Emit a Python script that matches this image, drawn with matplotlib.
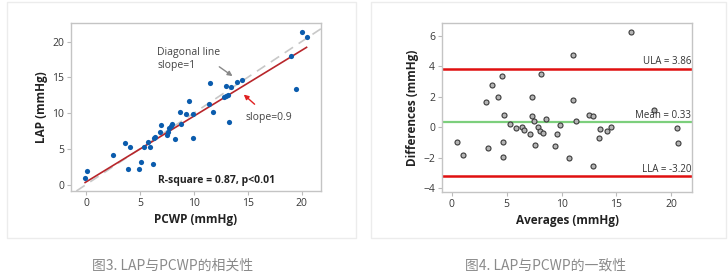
import matplotlib.pyplot as plt
from matplotlib.patches import Rectangle
import numpy as np

# panel 1: LAP vs PCWP
pcwp = [-0.09, 0.09, 2.53, 3.62, 3.86, 4.08, 4.95, 5.13, 5.38, 5.78, 5.94, 6.21, 6.31, 6.43,
        6.83, 6.99, 7.51, 7.64, 7.73, 7.85, 8.0, 8.22, 8.69, 8.81, 9.24, 9.52, 9.89, 9.89,
        11.44, 11.5, 11.81, 12.77, 12.95, 13.14, 13.01, 13.29, 13.42, 14.0, 14.47, 18.98,
        19.44, 20.03, 20.46]
lap = [0.93, 1.96, 4.07, 5.75, 2.24, 5.23, 2.24, 3.22, 5.23, 5.89, 5.23, 2.94, 6.45, 6.68,
       7.38, 8.27, 6.96, 7.29, 7.85, 8.18, 8.41, 6.36, 10.09, 8.41, 9.81, 11.73, 6.45, 9.86,
       11.21, 14.25, 10.14, 12.2, 12.38, 12.52, 13.83, 8.69, 13.64, 14.35, 14.58, 17.99,
       13.32, 21.31, 20.65]
fit_slope = 0.92
fit_intercept = 0.37

# panel 2: Bland-Altman
averages = [0.45, 1.0, 3.09, 3.33, 3.67, 4.18, 4.61, 4.67, 4.67, 4.73, 5.30, 5.85, 6.42, 6.61,
            7.15, 7.27, 7.33, 7.52, 7.61, 7.82, 8.03, 8.15, 8.27, 8.61, 9.42, 9.55, 9.85,
            10.67, 11.03, 11.06, 11.33, 12.55, 12.88, 12.85, 13.39, 13.55, 14.18, 14.55,
            16.33, 18.42, 20.55, 20.61]
differences = [-0.98, -1.84, 1.69, -1.38, 2.76, 1.97, 3.40, -0.98, -1.94, 0.79, 0.20, -0.04,
               0.05, -0.17, -0.46, 0.75, 1.99, 0.44, -1.18, 0.03, -0.21, 3.51, -0.39, 0.55,
               -1.25, -0.46, 0.14, -2.03, 1.77, 4.73, 0.42, 0.79, 0.75, -2.53, -0.67, -0.13,
               -0.24, 0.05, 6.24, 1.12, -0.06, -1.0]
ula, mean_diff, lla = 3.86, 0.33, -3.20

captions = ['图3. LAP与PCWP的相关性', '图4. LAP与PCWP的一致性']

plt.rcParams['font.family'] = ['Open Sans', 'DejaVu Sans']

fig = plt.figure(figsize=(7.28, 2.78), dpi=100)

# card outlines
for x0, x1 in [(7, 356), (371, 726)]:
    fig.patches.append(Rectangle((x0/728, 1-238/278), (x1-x0)/728, 236/278,
                                 transform=fig.transFigure, fill=False,
                                 edgecolor='#ececec', lw=1))

def style(ax):
    for s in ax.spines.values():
        s.set_color('#c4c4c4')
        s.set_linewidth(1)
    ax.tick_params(colors='#bbbbbb', labelcolor='#383838', labelsize=7.5,
                   length=3, width=0.8, pad=2)

ax1 = fig.add_axes([71/728, 1-191/278, 250/728, 168/278])
ax1.axline((0, 0), slope=1, color='#c8c8c8', lw=1.2, ls=(0, (6, 4)), zorder=1)
xs = np.array([min(pcwp), max(pcwp)])
ax1.plot(xs, fit_intercept + fit_slope*xs, color='#b8262b', lw=1.2, zorder=2)
ax1.scatter(pcwp, lap, s=14, color='#0b5cad', zorder=3, linewidths=0)
ax1.set_xlim(-1.4, 21.8)
ax1.set_ylim(-0.9, 22.6)
ax1.set_xticks([0, 5, 10, 15, 20])
ax1.set_yticks([0, 5, 10, 15, 20])
ax1.set_xlabel('PCWP (mmHg)', fontsize=8.5, fontweight='bold', color='#222222', labelpad=3)
ax1.set_ylabel('LAP (mmHg)', fontsize=8.5, fontweight='bold', color='#222222', labelpad=3)
style(ax1)
ax1.annotate('', xy=(13.8, 14.95), xytext=(12.15, 16.7),
             arrowprops=dict(arrowstyle='-|>', color='#888888', lw=1, mutation_scale=7))
ax1.text(6.6, 19.3, 'Diagonal line\nslope=1', fontsize=7.5, color='#444444',
         va='top', ha='left', linespacing=1.3)
ax1.annotate('', xy=(14.44, 12.85), xytext=(15.83, 10.98),
             arrowprops=dict(arrowstyle='-|>', color='#e02020', lw=1, mutation_scale=7))
ax1.text(14.75, 9.4, 'slope=0.9', fontsize=7.5, color='#444444', va='center', ha='left')
ax1.text(12.1, 0.6, 'R-square = 0.87, p<0.01', fontsize=7.5, fontweight='bold',
         color='#222222', ha='center', va='center')

ax2 = fig.add_axes([442/728, 1-191.7/278, 250/728, 168.4/278])
ax2.axhline(ula, color='#e01010', lw=1.8, zorder=1)
ax2.axhline(mean_diff, color='#7ccf7c', lw=1.6, zorder=1)
ax2.axhline(lla, color='#e01010', lw=1.8, zorder=1)
ax2.scatter(averages, differences, s=13, facecolor='#b4b4b4', edgecolor='#3a3a3a',
            linewidths=0.8, zorder=3)
ax2.set_xlim(-0.9, 21.9)
ax2.set_ylim(-4.22, 6.83)
ax2.set_xticks([0, 5, 10, 15, 20])
ax2.set_yticks([-4, -2, 0, 2, 4, 6])
ax2.set_xlabel('Averages (mmHg)', fontsize=8.5, fontweight='bold', color='#222222', labelpad=3)
ax2.set_ylabel('Differences (mmHg)', fontsize=8.5, fontweight='bold', color='#222222', labelpad=3)
style(ax2)
for val, name in [(ula, 'ULA'), (mean_diff, 'Mean'), (lla, 'LLA')]:
    ax2.text(21.85, val + 0.08, f'{name} = {val:.2f}', fontsize=7, color='#333333',
             ha='right', va='bottom')

for cx, cap in zip([173, 546], captions):
    fig.text(cx/728, 1-266/278, cap, fontsize=10, color='#8a8a8a',
             ha='center', va='center', family=['Noto Sans CJK SC', 'DejaVu Sans'])

fig.savefig('out.png', dpi=100)
